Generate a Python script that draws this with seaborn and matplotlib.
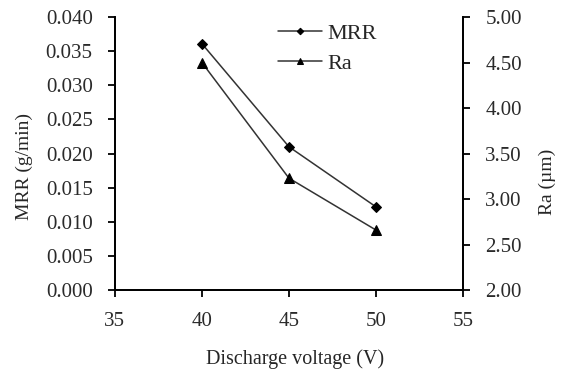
import matplotlib
matplotlib.use("Agg")
import matplotlib.pyplot as plt
import seaborn as sns

# data
voltage = [40, 45, 50]
mrr = [0.0361, 0.0210, 0.0122]
ra = [4.50, 3.23, 2.66]

sns.set_style("ticks")
plt.rcParams['font.family'] = ['Liberation Serif', 'DejaVu Serif']

fig = plt.figure(figsize=(5.66, 3.71), dpi=100)
ax = fig.add_axes([0.203, 0.218, 0.615, 0.736])
ax2 = ax.twinx()

line_col = '#333333'
sns.lineplot(x=voltage, y=mrr, ax=ax, color=line_col, marker='D', markersize=5.5,
             markeredgecolor='black', markerfacecolor='black', linewidth=1.1, label='MRR', legend=False)
sns.lineplot(x=voltage, y=ra, ax=ax2, color=line_col, marker='^', markersize=6.5,
             markeredgecolor='black', markerfacecolor='black', linewidth=1.1, label='Ra', legend=False)

ax.set_xlim(35, 55)
ax.set_ylim(0, 0.040)
ax2.set_ylim(2.0, 5.0)
ax.set_xticks([35, 40, 45, 50, 55])
ax.set_yticks([i * 0.005 for i in range(9)])
ax.set_yticklabels([f"{i * 0.005:.3f}" for i in range(9)])
ax2.set_yticks([2.0 + 0.5 * i for i in range(7)])
ax2.set_yticklabels([f"{2.0 + 0.5 * i:.2f}" for i in range(7)])

for a in (ax, ax2):
    a.spines['top'].set_visible(False)
    for s in a.spines.values():
        s.set_linewidth(1.3)
        s.set_color('black')
    a.tick_params(direction='out', length=5, width=1.3, labelsize=15, colors='black',
                  labelcolor='#2a2a2a', pad=11)

ax.set_xlabel('Discharge voltage (V)', fontsize=14.5)
ax.set_ylabel('MRR (g/min)', fontsize=14)
ax2.set_ylabel('Ra (µm)', fontsize=14)
ax.xaxis.set_label_coords(0.517, -0.216)
ax.yaxis.set_label_coords(-0.236, 0.454)
ax2.yaxis.set_label_coords(1.217, 0.396)

h1, l1 = ax.get_legend_handles_labels()
h2, l2 = ax2.get_legend_handles_labels()
ax.legend(h1 + h2, l1 + l2, loc='upper left', bbox_to_anchor=(0.468, 0.978), frameon=False,
          fontsize=16, handlelength=2.0, labelspacing=0.45, handletextpad=0.22,
          borderpad=0, borderaxespad=0, markerscale=0.6)

fig.savefig('out.png', dpi=100)
